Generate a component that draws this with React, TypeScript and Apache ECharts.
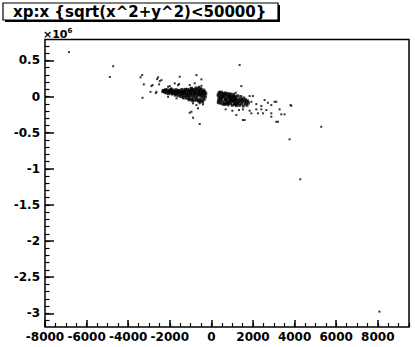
import React, { useEffect, useRef } from "react";
import * as echarts from "echarts";

const TITLE = "xp:x {sqrt(x^2+y^2)<50000}";
const EXPONENT = "6";

const X_MIN = -8000;
const X_MAX = 9500;
const Y_MIN = -3.19;
const Y_MAX = 0.79;

const X_MAJOR = [-8000, -6000, -4000, -2000, 0, 2000, 4000, 6000, 8000];
const Y_MAJOR = [-3, -2.5, -2, -1.5, -1, -0.5, 0, 0.5];

// isolated points (x, y in units of 10^6)
const OUTLIERS: number[][] = [
  [-6850, 0.615], [-4723, 0.42], [-4882, 0.27], [1358, 0.436], [-3331, 0.297],
  [-3408, 0.266], [-3250, 0.169], [-3312, -0.017], [-2880, 0.145], [-2674, 0.048],
  [-2563, 0.266], [-2400, 0.228], [-2515, 0.169], [-1522, 0.274], [-1555, 0.173],
  [-720, 0.297], [-480, 0.238], [-1042, 0.159], [-595, 0.136], [-2002, 0.145],
  [-1762, 0.183], [-960, -0.21], [-1042, -0.224], [-883, -0.293], [-562, -0.38],
  [-2611, 0.242], [-2482, 0.214], [-2832, 0.159], [-2640, 0.066], [-2928, 0.066],
  [-1603, 0.159], [-802, 0.183], [-480, 0.149], [-2083, 0.136], [-1920, 0.113],
  [-2323, 0.09], [-2083, -0.003], [-1680, -0.025], [-1363, -0.025], [-883, -0.094],
  [-720, -0.118], [-562, -0.094], [-403, -0.108], [-643, -0.163],
  [1440, 0.145], [2558, -0.048], [3038, -0.072], [3120, -0.349], [3806, -0.118],
  [3360, -0.246], [3518, -0.246], [1598, -0.325], [2237, -0.232], [2880, -0.279],
  [3758, -0.592], [3840, -0.127], [5280, -0.418], [4272, -1.145], [8078, -2.977],
  [1166, 0.053], [1838, 0.007], [1997, 0.007], [2717, -0.086], [2880, -0.118],
  [3120, -0.072], [1920, -0.072], [2160, -0.104], [2400, -0.131], [686, -0.177],
  [1008, -0.196], [1325, -0.187], [1517, -0.177], [1838, -0.196], [2160, -0.177],
  [2400, -0.177], [2640, -0.187], [2880, -0.232], [3278, -0.177], [1200, -0.256],
  [1920, -0.232], [2477, -0.232], [1517, -0.325], [3197, -0.349],
];

// dense cluster left of zero
const LEFT_CLUSTER: number[][] = [
  [-2340, 0.07], [-2290, 0.085], [-2250, 0.06], [-2210, 0.078], [-2170, 0.05],
  [-2130, 0.092], [-2100, 0.066], [-2060, 0.04], [-2020, 0.081], [-1990, 0.058],
  [-1950, 0.1], [-1920, 0.072], [-1890, 0.035], [-1860, 0.062], [-1830, 0.09],
  [-1800, 0.047], [-1770, 0.076], [-1740, 0.02], [-1710, 0.058], [-1690, 0.095],
  [-1660, 0.038], [-1630, 0.07], [-1600, 0.012], [-1580, 0.052], [-1550, 0.085],
  [-1520, 0.03], [-1500, 0.064], [-1470, 0.0], [-1450, 0.045], [-1420, 0.098],
  [-1400, 0.022], [-1380, 0.07], [-1350, -0.01], [-1330, 0.05], [-1300, 0.087],
  [-1280, 0.015], [-1260, 0.06], [-1230, -0.02], [-1210, 0.035], [-1190, 0.075],
  [-1170, 0.005], [-1150, 0.1], [-1130, 0.045], [-1110, -0.03], [-1090, 0.068],
  [-1070, 0.02], [-1050, 0.09], [-1030, -0.012], [-1010, 0.055], [-990, 0.03],
  [-970, 0.105], [-950, -0.04], [-930, 0.075], [-910, 0.012], [-890, 0.048],
  [-870, -0.02], [-850, 0.088], [-830, 0.03], [-810, 0.062], [-790, -0.05],
  [-770, 0.0], [-750, 0.097], [-730, 0.04], [-710, -0.025], [-690, 0.072],
  [-670, 0.015], [-650, 0.11], [-630, -0.06], [-610, 0.05], [-590, 0.025],
  [-570, 0.085], [-550, -0.035], [-530, 0.06], [-510, 0.005], [-490, 0.1],
  [-470, -0.055], [-450, 0.035], [-430, 0.072], [-410, -0.015], [-390, 0.05],
  [-370, 0.09], [-350, -0.04], [-330, 0.02], [-310, 0.065], [-290, -0.005],
  [-270, 0.04], [-1900, 0.05], [-1600, 0.08], [-1350, 0.04], [-1250, 0.1],
  [-1120, 0.015], [-1000, 0.075], [-880, 0.1], [-760, 0.055], [-680, -0.045],
  [-600, 0.075], [-520, 0.03], [-440, 0.01], [-360, 0.06], [-1440, 0.07],
  [-1720, 0.04], [-1980, 0.088], [-2200, 0.095], [-1060, -0.045], [-900, -0.06],
  [-560, -0.07], [-420, -0.075], [-740, 0.12], [-960, 0.115], [-540, 0.115],
];

// dense cluster right of zero
const RIGHT_CLUSTER: number[][] = [
  [320, 0.02], [340, -0.05], [360, 0.05], [380, -0.02], [400, -0.09],
  [420, 0.035], [440, -0.06], [460, 0.0], [480, 0.06], [500, -0.03],
  [520, -0.1], [540, 0.025], [560, -0.07], [580, 0.045], [600, -0.01],
  [620, -0.11], [640, 0.015], [660, -0.045], [680, 0.05], [700, -0.085],
  [720, -0.02], [740, 0.03], [760, -0.065], [780, 0.005], [800, -0.115],
  [820, 0.04], [840, -0.035], [860, -0.08], [880, 0.02], [900, -0.01],
  [920, -0.095], [940, 0.035], [960, -0.055], [980, -0.005], [1000, -0.12],
  [1020, 0.01], [1040, -0.07], [1060, -0.03], [1080, 0.03], [1100, -0.1],
  [1120, -0.045], [1140, 0.0], [1160, -0.08], [1180, -0.02], [1200, -0.125],
  [1230, -0.05], [1260, 0.01], [1290, -0.09], [1320, -0.035], [1350, -0.12],
  [1380, -0.06], [1410, 0.0], [1440, -0.1], [1470, -0.04], [1500, -0.075],
  [1530, -0.13], [1560, -0.02], [1590, -0.06], [1620, -0.1], [1650, -0.045],
  [1680, -0.08], [1710, -0.12], [1740, -0.06], [1780, -0.09], [370, 0.0],
  [450, -0.035], [530, 0.0], [610, 0.03], [690, -0.04], [770, -0.095],
  [850, 0.0], [930, -0.03], [1010, -0.06], [1090, -0.015], [1170, -0.05],
  [1250, -0.1], [330, -0.08], [410, 0.06], [650, -0.1], [890, -0.055],
  [1130, -0.11], [1330, -0.07], [1450, -0.045],
];

function minorTicks(lo: number, hi: number, step: number): number[] {
  const out: number[] = [];
  const n = Math.round((hi - lo) / step);
  for (let i = 0; i <= n; i++) out.push(Math.round((lo + i * step) * 1000) / 1000);
  return out;
}

const FONT = "DejaVu Sans";

export default function App() {
  const ref = useRef<HTMLDivElement>(null);
  useEffect(() => {
    if (!ref.current) return;
    const chart = echarts.init(ref.current, undefined, { renderer: "svg" });
    const xMinor = minorTicks(-8000, 9500, 500);
    const yMinor = minorTicks(-3.1, 0.7, 0.1);
    const labelStyle = {
      color: "#000",
      fontFamily: FONT,
      fontWeight: "bold" as const,
      fontSize: 12,
      hideOverlap: false,
      showMinLabel: true,
      formatter: (v: number) => String(v),
    };
    const pointStyle = { color: "#000" };
    chart.setOption({
      animation: false,
      backgroundColor: "#fff",
      grid: {
        left: 45,
        top: 39.5,
        right: 6,
        bottom: 20,
        show: true,
        borderColor: "#000",
        borderWidth: 1.5,
        backgroundColor: "#fff",
      },
      xAxis: [
        {
          type: "value",
          min: X_MIN,
          max: X_MAX,
          axisLine: { show: false, onZero: false },
          splitLine: { show: false },
          axisTick: {
            inside: true,
            length: 7,
            customValues: X_MAJOR,
            lineStyle: { color: "#000", width: 1.5 },
          },
          axisLabel: { ...labelStyle, margin: 4, customValues: X_MAJOR },
        },
        {
          type: "value",
          min: X_MIN,
          max: X_MAX,
          position: "bottom",
          axisLine: { show: false, onZero: false },
          splitLine: { show: false },
          axisLabel: { show: false },
          axisTick: {
            inside: true,
            length: 4,
            customValues: xMinor,
            lineStyle: { color: "#000", width: 1.2 },
          },
        },
      ],
      yAxis: [
        {
          type: "value",
          min: Y_MIN,
          max: Y_MAX,
          axisLine: { show: false, onZero: false },
          splitLine: { show: false },
          axisTick: {
            inside: true,
            length: 9,
            customValues: Y_MAJOR,
            lineStyle: { color: "#000", width: 1.5 },
          },
          axisLabel: { ...labelStyle, margin: 5, customValues: Y_MAJOR },
        },
        {
          type: "value",
          min: Y_MIN,
          max: Y_MAX,
          position: "left",
          axisLine: { show: false, onZero: false },
          splitLine: { show: false },
          axisLabel: { show: false },
          axisTick: {
            inside: true,
            length: 4.5,
            customValues: yMinor,
            lineStyle: { color: "#000", width: 1.2 },
          },
        },
      ],
      graphic: [
        {
          type: "rect",
          shape: { x: 5, y: 5, width: 275, height: 17 },
          style: { fill: "#000" },
          z: 100,
        },
        {
          type: "rect",
          shape: { x: 3, y: 3, width: 275, height: 17 },
          style: { fill: "#fff", stroke: "#000", lineWidth: 1.2 },
          z: 101,
        },
        {
          type: "text",
          x: 13,
          y: 11.5,
          z: 102,
          style: {
            text: TITLE,
            fill: "#000",
            font: `bold 15px "${FONT}"`,
            verticalAlign: "middle",
            align: "left",
          },
        },
        {
          type: "text",
          x: 43,
          y: 27,
          z: 102,
          style: {
            text: "{a|×10}{b|" + EXPONENT + "}",
            rich: {
              a: { fontFamily: FONT, fontWeight: "bold", fontSize: 11, fill: "#000", verticalAlign: "bottom" },
              b: { fontFamily: FONT, fontWeight: "bold", fontSize: 7, fill: "#000", verticalAlign: "top", padding: [0, 0, 6, 0] },
            },
          },
        },
      ],
      series: [
        {
          type: "scatter",
          data: OUTLIERS,
          symbol: "rect",
          symbolSize: 2,
          itemStyle: pointStyle,
          xAxisIndex: 0,
          yAxisIndex: 0,
        },
        {
          type: "scatter",
          data: LEFT_CLUSTER,
          symbol: "rect",
          symbolSize: 3,
          itemStyle: pointStyle,
          xAxisIndex: 0,
          yAxisIndex: 0,
        },
        {
          type: "scatter",
          data: RIGHT_CLUSTER,
          symbol: "rect",
          symbolSize: 3,
          itemStyle: pointStyle,
          xAxisIndex: 0,
          yAxisIndex: 0,
        },
      ],
    });
    return () => chart.dispose();
  }, []);
  return (
    <div
      ref={ref}
      style={{ position: "absolute", left: 0, top: 0, width: 415, height: 347 }}
    />
  );
}
